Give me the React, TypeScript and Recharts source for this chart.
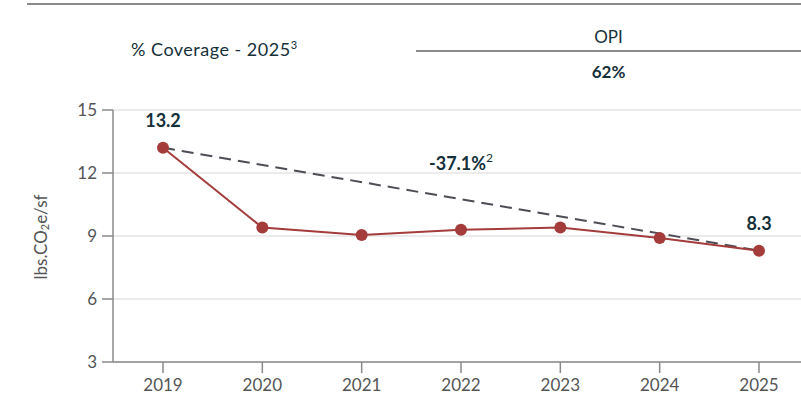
import React from "react";
import { LineChart, Line, XAxis, YAxis, CartesianGrid, ReferenceDot } from "recharts";

const years = ["2019", "2020", "2021", "2022", "2023", "2024", "2025"];
const intensity = [13.2, 9.4, 9.05, 9.3, 9.4, 8.9, 8.3];
const trend = [13.2, null, null, null, null, null, 8.3];
const yTicks = [3, 6, 9, 12, 15];
const changeLabel = "-37.1%";
const coverageLabel = "% Coverage - 2025";
const segment = "OPI";
const coverage = "62%";

const FONT = "Lato, 'Open Sans', sans-serif";
const RED = "#a43c3c";
const DARK = "#15303a";
const GREY_TXT = "#555";

const data = years.map((year, i) => ({ year, value: intensity[i], trend: trend[i] }));

function EndLabel(props: any) {
  const { x, y, index, value } = props;
  if (index !== 0 && index !== years.length - 1) return null;
  return (
    <text x={x} y={y - 21} textAnchor="middle" fontSize={18} fontWeight={700} fill={DARK} fontFamily={FONT}>
      {value}
    </text>
  );
}

function ChangeLabel(props: any) {
  const { cx, cy } = props;
  return (
    <text x={cx} y={cy} textAnchor="middle" dominantBaseline="central" fontSize={18} fontWeight={700} fill={DARK} fontFamily={FONT}>
      {changeLabel}
      <tspan fontSize={12} fontWeight={400} dy={-6}>2</tspan>
    </text>
  );
}

function YLabel() {
  return (
    <text x={40} y={237} transform="rotate(-90 40 237)" textAnchor="middle" dominantBaseline="central" fontSize={17} fill={GREY_TXT} fontFamily={FONT}>
      lbs.CO<tspan fontSize={11} dy={4}>2</tspan>
      <tspan dy={-4}>e/sf</tspan>
    </text>
  );
}

export default function App() {
  return (
    <div style={{ position: "absolute", left: 0, top: 0, width: 801, height: 401, background: "#fff", fontFamily: FONT }}>
      <div style={{ position: "absolute", left: 27, top: 3, width: 774, height: 2, background: "#8a8a8a" }} />
      <div style={{ position: "absolute", left: 131, top: 38, fontSize: 18, letterSpacing: 0.5, color: DARK, whiteSpace: "nowrap" }}>
        {coverageLabel}
        <sup style={{ fontSize: 11 }}>3</sup>
      </div>
      <div style={{ position: "absolute", left: 416, top: 26, width: 385, textAlign: "center", fontSize: 17, color: DARK }}>{segment}</div>
      <div style={{ position: "absolute", left: 416, top: 50, width: 385, height: 1.5, background: "#8a8a8a" }} />
      <div style={{ position: "absolute", left: 416, top: 61, width: 385, textAlign: "center", fontSize: 17, fontWeight: 700, color: DARK }}>{coverage}</div>
      <div style={{ position: "absolute", left: 0, top: 0 }}>
        <LineChart width={801} height={401} data={data} margin={{ top: 110, right: 0, bottom: 0, left: 0 }}>
          <CartesianGrid vertical={false} stroke="#e4e4e4" strokeWidth={1.5} />
          <XAxis
            dataKey="year"
            padding={{ left: 50, right: 42 }}
            height={39}
            tickSize={11}
            tickMargin={6}
            axisLine={{ stroke: "#8a8a8a", strokeWidth: 1.5 }}
            tickLine={{ stroke: "#8a8a8a", strokeWidth: 1.5 }}
            tick={{ fontSize: 17, fill: GREY_TXT, fontFamily: FONT }}
          />
          <YAxis
            domain={[3, 15]}
            ticks={yTicks}
            width={113}
            tickSize={11}
            tickMargin={5}
            axisLine={{ stroke: "#8a8a8a", strokeWidth: 1.5 }}
            tickLine={{ stroke: "#8a8a8a", strokeWidth: 1.5 }}
            tick={{ fontSize: 17, fill: GREY_TXT, fontFamily: FONT }}
            label={<YLabel />}
          />
          <Line
            dataKey="trend"
            connectNulls
            stroke="#4d4d55"
            strokeWidth={2}
            strokeDasharray="12 7"
            dot={false}
            activeDot={false}
            isAnimationActive={false}
          />
          <Line
            dataKey="value"
            stroke={RED}
            strokeWidth={2}
            dot={{ r: 6, fill: RED, stroke: RED, strokeWidth: 0 }}
            activeDot={false}
            label={<EndLabel />}
            isAnimationActive={false}
          />
          <ReferenceDot x="2022" y={12.48} r={0} shape={<ChangeLabel />} />
        </LineChart>
      </div>
    </div>
  );
}
